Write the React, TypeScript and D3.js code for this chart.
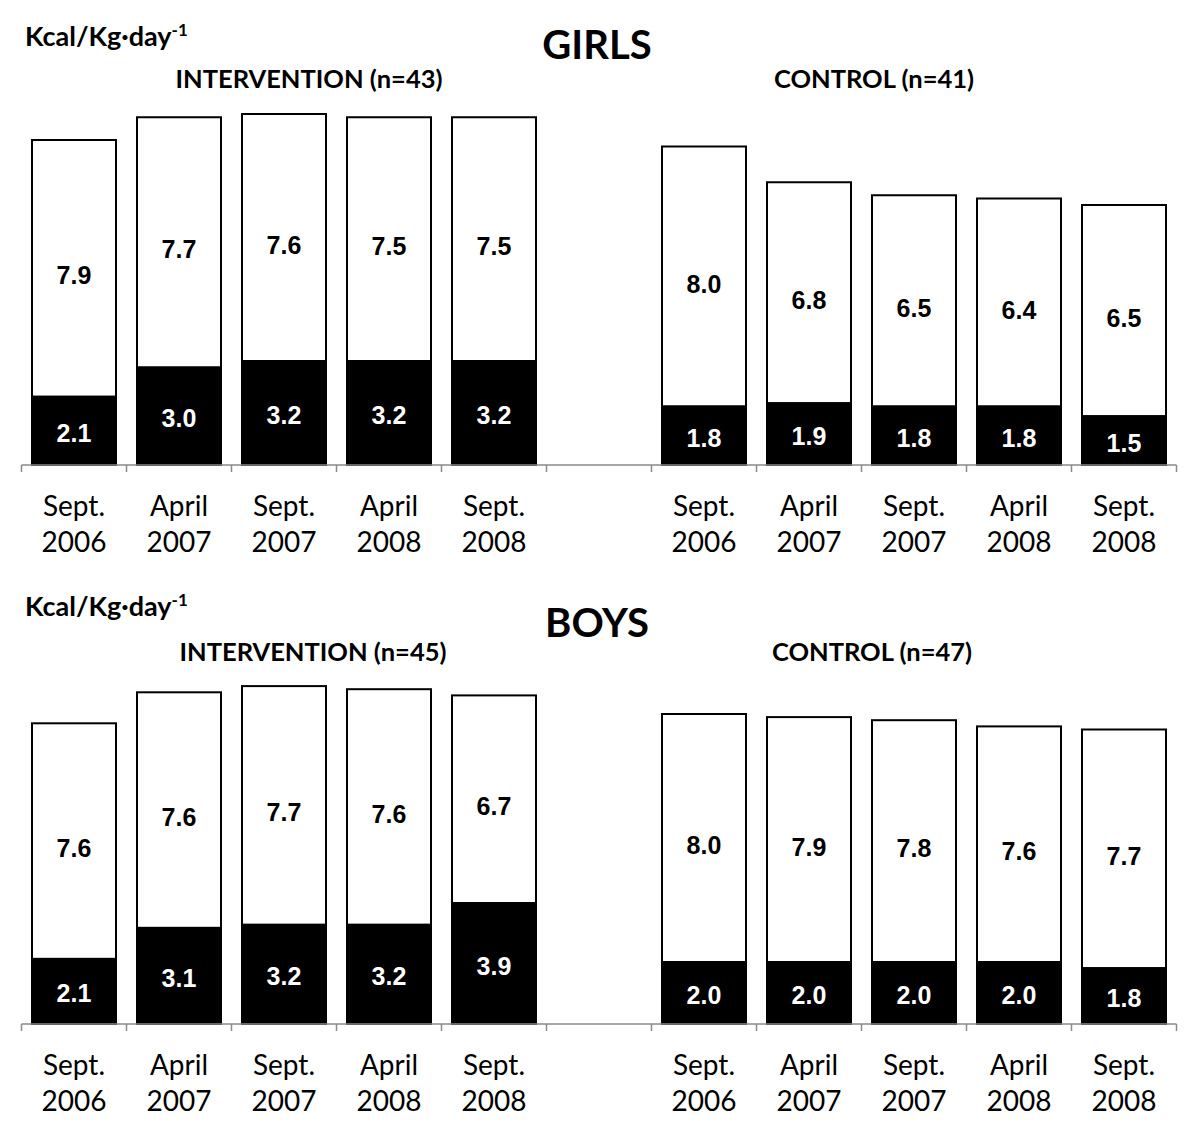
import React from 'react';
import * as d3 from 'd3';

const catLine1 = ['Sept.', 'April', 'Sept.', 'April', 'Sept.'];
const catLine2 = ['2006', '2007', '2007', '2008', '2008'];

const girlsIntLow = [2.1, 3.0, 3.2, 3.2, 3.2];
const girlsIntHigh = [7.9, 7.7, 7.6, 7.5, 7.5];
const girlsCtlLow = [1.8, 1.9, 1.8, 1.8, 1.5];
const girlsCtlHigh = [8.0, 6.8, 6.5, 6.4, 6.5];

const boysIntLow = [2.1, 3.1, 3.2, 3.2, 3.9];
const boysIntHigh = [7.6, 7.6, 7.7, 7.6, 6.7];
const boysCtlLow = [2.0, 2.0, 2.0, 2.0, 1.8];
const boysCtlHigh = [8.0, 7.9, 7.8, 7.6, 7.7];

const slots = ['i0', 'i1', 'i2', 'i3', 'i4', 'gap', 'c0', 'c1', 'c2', 'c3', 'c4'];

const CAL = "Lato, 'Open Sans', sans-serif";
const ARIAL = "'Liberation Sans', Arial, sans-serif";

type PanelProps = {
  baseline: number;
  pxPerUnit: number;
  intLow: number[];
  intHigh: number[];
  ctlLow: number[];
  ctlHigh: number[];
  title: string;
  intTitle: string;
  ctlTitle: string;
  unitY: number;
  titleY: number;
  subY: number;
  intX: number;
  ctlX: number;
};

function Panel(p: PanelProps) {
  const x = d3.scaleBand<string>().domain(slots).range([21.5, 1176.5]).paddingInner(0.2).paddingOuter(0.1);
  const y = d3.scaleLinear().domain([0, 12]).range([p.baseline, p.baseline - 12 * p.pxPerUnit]);
  const step = x.step();
  const start = x.range()[0];
  const ticks = d3.range(slots.length + 1).map((i) => start + i * step);

  const groups = [
    { prefix: 'i', low: p.intLow, high: p.intHigh },
    { prefix: 'c', low: p.ctlLow, high: p.ctlHigh },
  ];

  return (
    <g>
      <text x={25} y={p.unitY} fontFamily={CAL} fontWeight="bold" fontSize={27} fill="#000">
        Kcal/Kg·day
        <tspan fontSize={17} dy={-10}>-1</tspan>
      </text>
      <text x={597} y={p.titleY} textAnchor="middle" fontFamily={CAL} fontWeight="bold" fontSize={40} fill="#000">
        {p.title}
      </text>
      <text x={p.intX} y={p.subY} textAnchor="middle" fontFamily={CAL} fontWeight="bold" fontSize={25.5} fill="#000">
        {p.intTitle}
      </text>
      <text x={p.ctlX} y={p.subY} textAnchor="middle" fontFamily={CAL} fontWeight="bold" fontSize={25.5} fill="#000">
        {p.ctlTitle}
      </text>

      {groups.map((g) =>
        g.low.map((lo, i) => {
          const key = g.prefix + i;
          const bx = x(key) as number;
          const bw = x.bandwidth();
          const hi = g.high[i];
          const yLowTop = y(lo);
          const yTop = y(lo + hi);
          return (
            <g key={key}>
              <rect x={bx} y={yTop} width={bw} height={yLowTop - yTop} fill="#fff" stroke="#000" strokeWidth={2} />
              <rect x={bx} y={yLowTop} width={bw} height={p.baseline - yLowTop} fill="#000" stroke="#000" strokeWidth={2} />
              <text
                x={bx + bw / 2}
                y={(yTop + yLowTop) / 2 + 7}
                dy="0.36em"
                textAnchor="middle"
                fontFamily={ARIAL}
                fontWeight="bold"
                fontSize={25}
                fill="#000"
              >
                {hi.toFixed(1)}
              </text>
              <text
                x={bx + bw / 2}
                y={(yLowTop + p.baseline) / 2 + 2}
                dy="0.36em"
                textAnchor="middle"
                fontFamily={ARIAL}
                fontWeight="bold"
                fontSize={25}
                fill="#fff"
              >
                {lo.toFixed(1)}
              </text>
              <text x={bx + bw / 2} y={p.baseline + 51} textAnchor="middle" fontFamily={CAL} fontSize={28} fill="#000">
                {catLine1[i]}
              </text>
              <text x={bx + bw / 2} y={p.baseline + 87} textAnchor="middle" fontFamily={CAL} fontSize={28} fill="#000">
                {catLine2[i]}
              </text>
            </g>
          );
        })
      )}

      <line x1={ticks[0]} x2={ticks[ticks.length - 1]} y1={p.baseline} y2={p.baseline} stroke="#8a8a8a" strokeWidth={1.5} />
      {ticks.map((t, i) => (
        <line key={i} x1={t} x2={t} y1={p.baseline} y2={p.baseline + 7} stroke="#8a8a8a" strokeWidth={1.5} />
      ))}
    </g>
  );
}

export default function App() {
  return (
    <svg
      width={1200}
      height={1134}
      style={{ position: 'absolute', left: 0, top: 0, background: '#fff' }}
    >
      <rect width={1200} height={1134} fill="#fff" />
      <Panel
        baseline={465}
        pxPerUnit={32.5}
        intLow={girlsIntLow}
        intHigh={girlsIntHigh}
        ctlLow={girlsCtlLow}
        ctlHigh={girlsCtlHigh}
        title="GIRLS"
        intTitle="INTERVENTION (n=43)"
        ctlTitle="CONTROL (n=41)"
        unitY={46}
        titleY={59}
        subY={88}
        intX={309}
        ctlX={874}
      />
      <Panel
        baseline={1024}
        pxPerUnit={31}
        intLow={boysIntLow}
        intHigh={boysIntHigh}
        ctlLow={boysCtlLow}
        ctlHigh={boysCtlHigh}
        title="BOYS"
        intTitle="INTERVENTION (n=45)"
        ctlTitle="CONTROL (n=47)"
        unitY={616}
        titleY={637}
        subY={661}
        intX={313}
        ctlX={872}
      />
    </svg>
  );
}
